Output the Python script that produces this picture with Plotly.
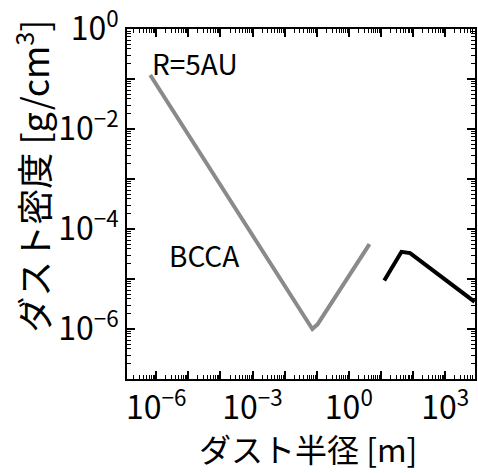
import plotly.graph_objects as go

# BCCA (gray) curve
gray_x = [6.5e-7, 7.3e-2, 1.06e-1, 4.4]
gray_y = [1.2e-1, 1.0e-6, 1.24e-6, 5.0e-5]
# black curve
black_x = [12.7, 43.6, 81.0, 8300.0]
black_y = [9.3e-6, 3.5e-5, 3.3e-5, 3.5e-6]

x_tick_exps = list(range(-7, 5))
x_label_exps = [-6, -3, 0, 3]
y_tick_exps = list(range(-7, 1))
y_label_exps = [-6, -4, -2, 0]

X_RANGE = [-6.91, 3.93]
Y_RANGE = [-7, 0]
FONT = "Noto Sans CJK JP"


def fmt(e):
    s = str(e).replace("-", "\u2212")
    return "10<sup>" + s + "</sup>"


def minor_vals(exps):
    out = []
    for e in exps:
        for m in range(2, 10):
            out.append(m * 10.0 ** e)
    return out


fig = go.Figure()
fig.add_trace(go.Scatter(x=gray_x, y=gray_y, mode="lines",
                         line=dict(color="#8a8a8a", width=4), showlegend=False))
fig.add_trace(go.Scatter(x=black_x, y=black_y, mode="lines", xaxis="x2", yaxis="y2",
                         line=dict(color="#000000", width=4), showlegend=False))

axis_common = dict(
    type="log", showgrid=False, zeroline=False,
    showline=True, mirror="allticks", linecolor="black", linewidth=2,
    ticks="inside", ticklen=8, tickwidth=1.5, tickcolor="black",
    tickfont=dict(family=FONT, size=32, color="black"),
    ticklabeloverflow="allow",
)

fig.update_layout(
    xaxis=dict(
        **axis_common,
        range=X_RANGE, tickangle=0, tickmode="array",
        tickvals=[10.0 ** e for e in x_label_exps],
        ticktext=[fmt(e) for e in x_label_exps],
        minor=dict(ticks="inside", ticklen=4, tickwidth=1, tickcolor="black",
                   tickmode="array", tickvals=minor_vals(x_tick_exps), showgrid=False),
    ),
    yaxis=dict(
        **axis_common,
        range=Y_RANGE, tickmode="array",
        tickvals=[10.0 ** e for e in y_label_exps],
        ticktext=[fmt(e) for e in y_label_exps],
        minor=dict(ticks="inside", ticklen=4, tickwidth=1, tickcolor="black",
                   tickmode="array", tickvals=minor_vals(y_tick_exps), showgrid=False),
    ),
    xaxis2=dict(
        type="log", overlaying="x", side="bottom", range=X_RANGE, anchor="y2",
        showgrid=False, zeroline=False, showline=False, mirror="ticks",
        ticks="inside", ticklen=8, tickwidth=1.5, tickcolor="black",
        tickmode="array", tickvals=[10.0 ** e for e in x_tick_exps],
        showticklabels=False,
    ),
    yaxis2=dict(
        type="log", overlaying="y", side="left", range=Y_RANGE, anchor="x2",
        showgrid=False, zeroline=False, showline=False, mirror="ticks",
        ticks="inside", ticklen=8, tickwidth=1.5, tickcolor="black",
        tickmode="array", tickvals=[10.0 ** e for e in y_tick_exps],
        showticklabels=False,
    ),
)

fig.add_annotation(text="R=5AU", xref="paper", yref="paper", x=0.066, y=0.903,
                   xanchor="left", yanchor="middle", showarrow=False,
                   font=dict(family=FONT, size=28, color="black"))
fig.add_annotation(text="BCCA", xref="paper", yref="paper", x=0.114, y=0.354,
                   xanchor="left", yanchor="middle", showarrow=False,
                   font=dict(family=FONT, size=28, color="black"))
fig.add_annotation(text="ダスト半径 [m]", xref="paper", yref="paper", x=0.52, y=0.0,
                   yshift=-94, xanchor="center", yanchor="bottom", showarrow=False,
                   font=dict(family=FONT, size=32, color="black"))
fig.add_annotation(text="ダスト密度 [g/cm<sup>3</sup>]", xref="paper", yref="paper",
                   x=-0.274, y=0.58, textangle=-90,
                   xanchor="center", yanchor="middle", showarrow=False,
                   font=dict(family=FONT, size=36, color="black"))

fig.update_layout(
    width=478, height=473,
    margin=dict(l=127, r=1, t=29, b=94),
    paper_bgcolor="white", plot_bgcolor="white",
    font=dict(family=FONT, color="black"),
)

fig.write_html("out.html")
